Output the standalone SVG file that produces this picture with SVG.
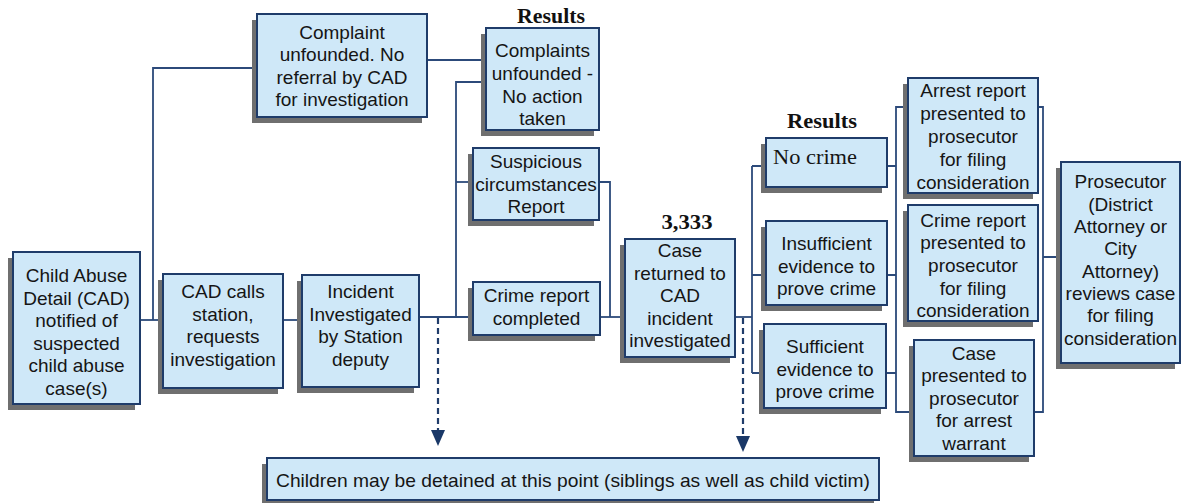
<svg xmlns="http://www.w3.org/2000/svg" width="1181" height="503" viewBox="0 0 1181 503">
<style>
.sh{fill:#6f6f6f;}
.box{fill:#cfe8f8;stroke:#1f3c6a;stroke-width:2;}
.t{font-family:"Liberation Sans",Arial,sans-serif;font-size:19px;fill:#151515;text-anchor:middle;}
.lbl{font-family:"Liberation Serif","Times New Roman",serif;font-size:20px;font-weight:bold;fill:#111;text-anchor:middle;}
.ser{font-family:"Liberation Serif","Times New Roman",serif;font-size:21px;fill:#151515;}
.c{fill:none;stroke:#2c4a7a;stroke-width:1.8;}
.d{fill:none;stroke:#1f3c6a;stroke-width:2.2;stroke-dasharray:6 4;}
.ah{fill:#1a3868;}
</style>
<g id="connectors">
<path class="c" d="M140,320 H163"/>
<path class="c" d="M153,320 V68 H257"/>
<path class="c" d="M283,320 H302"/>
<path class="c" d="M419,317 H473"/>
<path class="c" d="M456,317 V82 H486"/>
<path class="c" d="M456,182 H473"/>
<path class="c" d="M427,60 H486"/>
<path class="c" d="M599,182 H610 V317"/>
<path class="c" d="M600,317 H625"/>
<path class="c" d="M735,317 H752"/>
<path class="c" d="M752,166 V373"/>
<path class="c" d="M752,166 H766 M752,275 H766 M752,373 H764"/>
<path class="c" d="M887,166 H896 M887,275 H896 M886,373 H896"/>
<path class="c" d="M908,107 H896 V412 H914"/>
<path class="c" d="M1038,107 H1043 V412 H1034 M1043,257 H1061"/>
<path class="d" d="M438,318 V431"/>
<polygon class="ah" points="431,430 445,430 438,446"/>
<path class="d" d="M743,318 V437"/>
<polygon class="ah" points="736,436 750,436 743,452"/>
</g>
<g id="n-child-abuse">
<rect class="sh" x="8" y="258" width="127" height="152"/>
<rect class="box" x="13" y="252" width="127" height="152"/>
<text class="t" x="76.5" y="282">Child Abuse</text>
<text class="t" x="76.5" y="304.5">Detail (CAD)</text>
<text class="t" x="76.5" y="327">notified of</text>
<text class="t" x="76.5" y="349.5">suspected</text>
<text class="t" x="76.5" y="372">child abuse</text>
<text class="t" x="76.5" y="394.5">case(s)</text>
</g>
<g id="n-cad-calls">
<rect class="sh" x="158" y="280" width="120" height="114"/>
<rect class="box" x="163" y="274" width="120" height="114"/>
<text class="t" x="223" y="298">CAD calls</text>
<text class="t" x="223" y="320.5">station,</text>
<text class="t" x="223" y="343">requests</text>
<text class="t" x="223" y="365.5">investigation</text>
</g>
<g id="n-incident">
<rect class="sh" x="297" y="281" width="117" height="112"/>
<rect class="box" x="302" y="275" width="117" height="112"/>
<text class="t" x="360.5" y="298">Incident</text>
<text class="t" x="360.5" y="320.5">Investigated</text>
<text class="t" x="360.5" y="343">by Station</text>
<text class="t" x="360.5" y="365.5">deputy</text>
</g>
<g id="n-complaint-unfounded">
<rect class="sh" x="252" y="20" width="170" height="103"/>
<rect class="box" x="257" y="14" width="170" height="103"/>
<text class="t" x="342" y="38.5">Complaint</text>
<text class="t" x="342" y="61">unfounded. No</text>
<text class="t" x="342" y="83.5">referral by CAD</text>
<text class="t" x="342" y="106">for investigation</text>
</g>
<g id="lbl-results-1">
<text class="lbl" x="551" y="22.5" textLength="68" lengthAdjust="spacingAndGlyphs">Results</text>
</g>
<g id="n-no-action">
<rect class="sh" x="481" y="34" width="113" height="102"/>
<rect class="box" x="486" y="28" width="113" height="102"/>
<text class="t" x="542.5" y="57">Complaints</text>
<text class="t" x="542.5" y="80">unfounded -</text>
<text class="t" x="542.5" y="102.5">No action</text>
<text class="t" x="542.5" y="125">taken</text>
</g>
<g id="n-suspicious">
<rect class="sh" x="468" y="154" width="126" height="72"/>
<rect class="box" x="473" y="148" width="126" height="72"/>
<text class="t" x="536" y="168">Suspicious</text>
<text class="t" x="536" y="190.5">circumstances</text>
<text class="t" x="536" y="213">Report</text>
</g>
<g id="n-crime-report">
<rect class="sh" x="468" y="288" width="127" height="53"/>
<rect class="box" x="473" y="282" width="127" height="53"/>
<text class="t" x="536.5" y="302">Crime report</text>
<text class="t" x="536.5" y="324.5">completed</text>
</g>
<g id="lbl-3333">
<text class="lbl" x="687" y="229" textLength="51" lengthAdjust="spacingAndGlyphs">3,333</text>
</g>
<g id="n-case-returned">
<rect class="sh" x="620" y="245" width="110" height="118"/>
<rect class="box" x="625" y="239" width="110" height="118"/>
<text class="t" x="680" y="257">Case</text>
<text class="t" x="680" y="279.5">returned to</text>
<text class="t" x="680" y="302">CAD</text>
<text class="t" x="680" y="324.5">incident</text>
<text class="t" x="680" y="347">investigated</text>
</g>
<g id="lbl-results-2">
<text class="lbl" x="822" y="128" textLength="70" lengthAdjust="spacingAndGlyphs">Results</text>
</g>
<g id="n-no-crime">
<rect class="sh" x="761" y="144" width="121" height="49"/>
<rect class="box" x="766" y="138" width="121" height="49"/>
<text class="ser" x="773" y="163.5" textLength="84" lengthAdjust="spacingAndGlyphs">No crime</text>
</g>
<g id="n-insufficient">
<rect class="sh" x="761" y="227" width="121" height="84"/>
<rect class="box" x="766" y="221" width="121" height="84"/>
<text class="t" x="826.5" y="250">Insufficient</text>
<text class="t" x="826.5" y="272.5">evidence to</text>
<text class="t" x="826.5" y="295">prove crime</text>
</g>
<g id="n-sufficient">
<rect class="sh" x="759" y="330" width="122" height="84"/>
<rect class="box" x="764" y="324" width="122" height="84"/>
<text class="t" x="825" y="353">Sufficient</text>
<text class="t" x="825" y="375.5">evidence to</text>
<text class="t" x="825" y="398">prove crime</text>
</g>
<g id="n-arrest-report">
<rect class="sh" x="903" y="84" width="130" height="115"/>
<rect class="box" x="908" y="78" width="130" height="115"/>
<text class="t" x="973" y="96.5">Arrest report</text>
<text class="t" x="973" y="119.5">presented to</text>
<text class="t" x="973" y="142.5">prosecutor</text>
<text class="t" x="973" y="165.5">for filing</text>
<text class="t" x="973" y="188.5">consideration</text>
</g>
<g id="n-crime-presented">
<rect class="sh" x="903" y="211" width="130" height="116"/>
<rect class="box" x="908" y="205" width="130" height="116"/>
<text class="t" x="973" y="226.5">Crime report</text>
<text class="t" x="973" y="249">presented to</text>
<text class="t" x="973" y="272">prosecutor</text>
<text class="t" x="973" y="294.5">for filing</text>
<text class="t" x="973" y="317">consideration</text>
</g>
<g id="n-case-presented">
<rect class="sh" x="909" y="346" width="120" height="116"/>
<rect class="box" x="914" y="340" width="120" height="116"/>
<text class="t" x="974" y="359.5">Case</text>
<text class="t" x="974" y="382">presented to</text>
<text class="t" x="974" y="404.5">prosecutor</text>
<text class="t" x="974" y="427">for arrest</text>
<text class="t" x="974" y="449.5">warrant</text>
</g>
<g id="n-prosecutor">
<rect class="sh" x="1056" y="168" width="119" height="201"/>
<rect class="box" x="1061" y="162" width="119" height="201"/>
<text class="t" x="1120.5" y="188">Prosecutor</text>
<text class="t" x="1120.5" y="210.5">(District</text>
<text class="t" x="1120.5" y="233">Attorney or</text>
<text class="t" x="1120.5" y="255">City</text>
<text class="t" x="1120.5" y="277.5">Attorney)</text>
<text class="t" x="1120.5" y="300">reviews case</text>
<text class="t" x="1120.5" y="322">for filing</text>
<text class="t" x="1120.5" y="344.5">consideration</text>
</g>
<g id="n-children-detained">
<rect class="sh" x="262" y="464" width="612" height="42"/>
<rect class="box" x="267" y="458" width="612" height="42"/>
<text class="t" x="573" y="487" font-size="18" textLength="594" lengthAdjust="spacingAndGlyphs">Children may be detained at this point (siblings as well as child victim)</text>
</g>
</svg>
